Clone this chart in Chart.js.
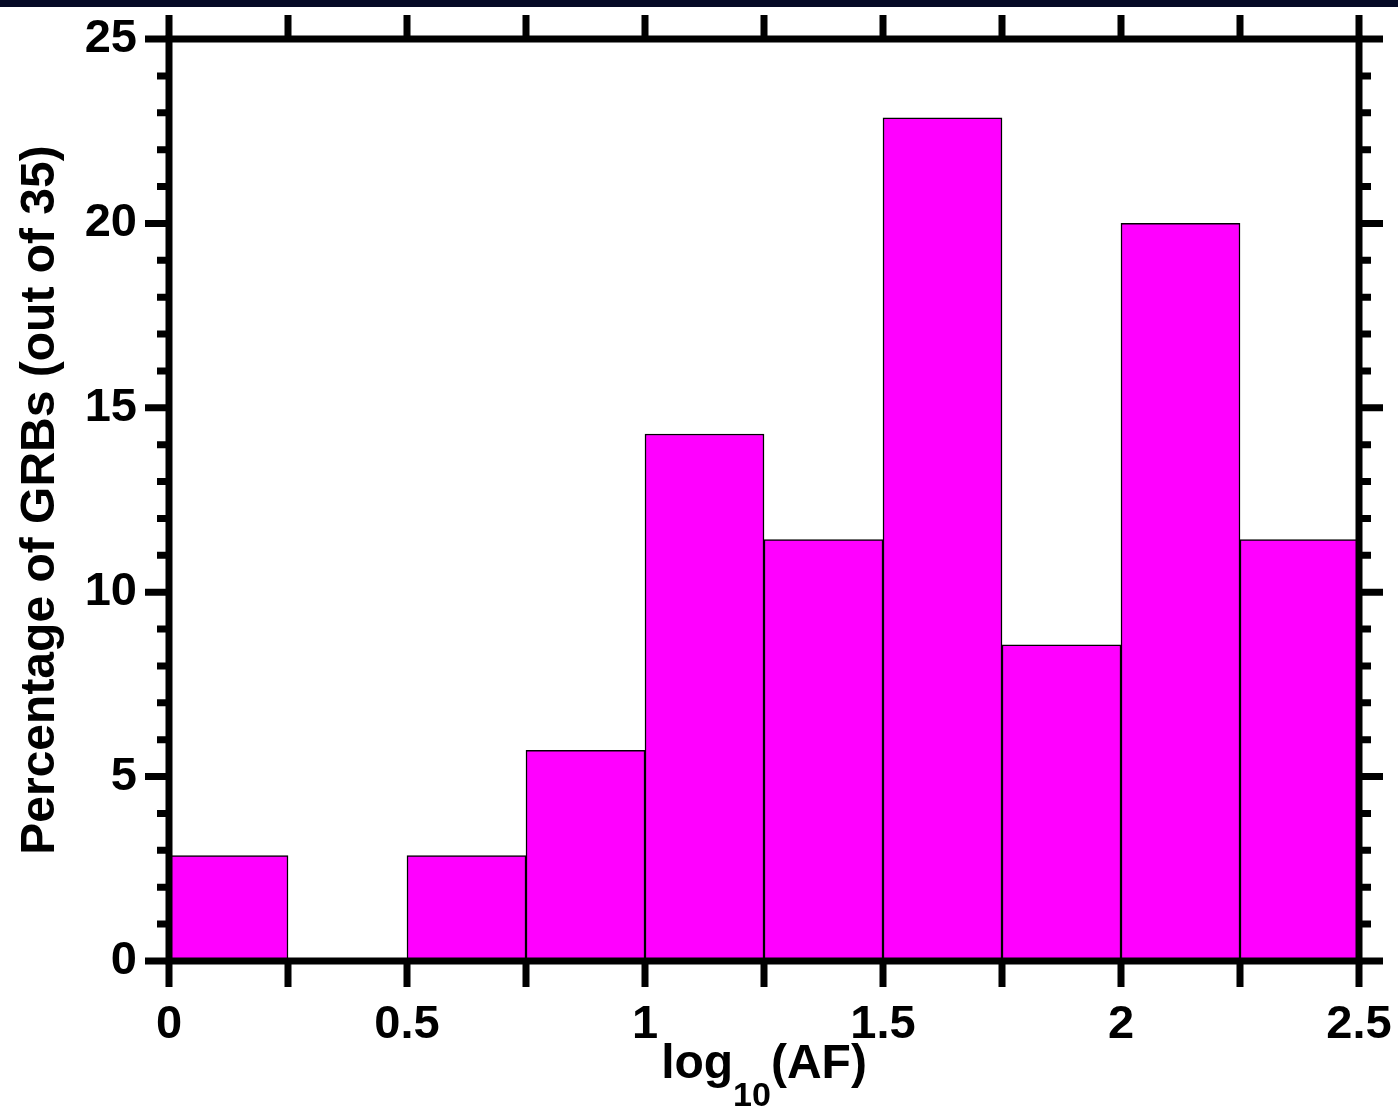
<!DOCTYPE html>
<html>
<head>
<meta charset="utf-8">
<title>Percentage of GRBs vs log10(AF)</title>
<script src="https://cdn.jsdelivr.net/npm/chart.js@4.4.0/dist/chart.umd.min.js"></script>
<style>
    html, body { margin: 0; padding: 0; background: #ffffff; }
    #wrap { width: 1398px; height: 1108px; position: relative; }
</style>
</head>
<body>
<div id="wrap"><canvas id="histChart" width="1398" height="1108"></canvas></div>
<script>
// --- Histogram data (bins of width 0.25 in log10(AF)) ---
const binCentres = [0.125, 0.375, 0.625, 0.875, 1.125, 1.375, 1.625, 1.875, 2.125, 2.375];
const percentValues = [2.86, 0, 2.86, 5.71, 14.29, 11.43, 22.86, 8.57, 20.0, 11.43];
const xTickLabels = ['0', '0.5', '1', '1.5', '2', '2.5'];
const yTickLabels = ['0', '5', '10', '15', '20', '25'];

const FONT = "'Liberation Sans', Arial, Helvetica, sans-serif";
const INK = '#000000';

// top dark band + white page
const backgroundPlugin = {
    id: 'pageBackground',
    beforeDraw(chart) {
        const ctx = chart.ctx;
        ctx.save();
        ctx.fillStyle = '#ffffff';
        ctx.fillRect(0, 0, chart.width, chart.height);
        ctx.fillStyle = '#050a26';
        ctx.fillRect(0, 0, chart.width, 7);
        ctx.restore();
    }
};

// --- thick frame with outward ticks on all four sides ---
const frameTicksPlugin = {
    id: 'frameTicks',
    afterDatasetsDraw(chart) {
        const { ctx, chartArea: area, scales: { x, y } } = chart;
        const lw = 7;
        ctx.save();
        ctx.strokeStyle = INK;
        ctx.lineWidth = lw;
        ctx.lineCap = 'butt';

        // frame
        ctx.strokeRect(area.left, area.top, area.right - area.left, area.bottom - area.top);

        ctx.beginPath();
        // x ticks (every 0.25) on bottom and top
        x.ticks.forEach(t => {
            const px = x.getPixelForValue(t.value);
            ctx.moveTo(px, area.bottom);
            ctx.lineTo(px, area.bottom + 26);
            ctx.moveTo(px, area.top);
            ctx.lineTo(px, area.top - 24);
        });
        // y ticks: major every 5, minor every 1
        for (let v = y.min; v <= y.max; v++) {
            const py = y.getPixelForValue(v);
            const len = v % 5 === 0 ? 24 : 12;
            ctx.moveTo(area.left, py);
            ctx.lineTo(area.left - len, py);
            ctx.moveTo(area.right, py);
            ctx.lineTo(area.right + len, py);
        }
        ctx.stroke();
        ctx.restore();
    }
};

// --- x axis title with subscript: log10(AF) ---
const xTitlePlugin = {
    id: 'xTitle',
    afterDraw(chart) {
        const { ctx, chartArea: area } = chart;
        const mainFont = `bold 48px ${FONT}`;
        const subFont = `bold 34px ${FONT}`;
        const parts = [
            { text: 'log', font: mainFont, dy: 0 },
            { text: '10', font: subFont, dy: 28 },
            { text: '(AF)', font: mainFont, dy: 0 }
        ];
        ctx.save();
        ctx.fillStyle = INK;
        ctx.textBaseline = 'alphabetic';
        ctx.textAlign = 'left';
        let total = 0;
        parts.forEach(p => { ctx.font = p.font; p.w = ctx.measureText(p.text).width; total += p.w; });
        let cx = (area.left + area.right) / 2 - total / 2;
        const baseline = area.bottom + 117;
        parts.forEach(p => {
            ctx.font = p.font;
            ctx.fillText(p.text, cx, baseline + p.dy);
            cx += p.w;
        });
        ctx.restore();
    }
};

const ctx = document.getElementById('histChart').getContext('2d');
const histChart = new Chart(ctx, {
    type: 'bar',
    data: {
        datasets: [{
            label: 'Percentage of GRBs',
            data: binCentres.map((c, i) => ({ x: c, y: percentValues[i] })),
            backgroundColor: '#ff00ff',
            borderColor: INK,
            borderWidth: 1.5,
            borderSkipped: false,
            barPercentage: 1.0,
            categoryPercentage: 1.0
        }]
    },
    options: {
        responsive: false,
        animation: false,
        devicePixelRatio: 1,
        layout: { padding: { top: 39, right: 39, left: 0, bottom: 0 } },
        plugins: {
            legend: { display: false },
            tooltip: { enabled: false }
        },
        scales: {
            x: {
                type: 'linear',
                min: 0,
                max: 2.5,
                offset: false,
                grid: { display: false, drawTicks: false },
                border: { display: false },
                ticks: {
                    stepSize: 0.25,
                    padding: 36,
                    maxRotation: 0,
                    autoSkip: false,
                    color: INK,
                    font: { family: FONT, size: 47, weight: 'bold', lineHeight: 1.2 },
                    callback: function (value) {
                        const idx = Math.round(value / 0.5);
                        return Math.abs(value - idx * 0.5) < 1e-9 ? xTickLabels[idx] : '';
                    }
                },
                afterFit: function (scale) {
                    scale.height = 147;
                    // don't let label overflow push the plot edges in
                    scale.paddingLeft = 0;
                    scale.paddingRight = 0;
                }
            },
            y: {
                min: 0,
                max: 25,
                grid: { display: false, drawTicks: false },
                border: { display: false },
                ticks: {
                    stepSize: 5,
                    padding: 32,
                    color: INK,
                    font: { family: FONT, size: 47, weight: 'bold', lineHeight: 1.2 },
                    callback: function (value) { return yTickLabels[Math.round(value / 5)]; }
                },
                title: {
                    display: true,
                    text: 'Percentage of GRBs (out of 35)',
                    color: INK,
                    font: { family: FONT, size: 48, weight: 'bold', lineHeight: 1.2 },
                    padding: { top: 12, bottom: 0 }
                },
                afterFit: function (scale) {
                    scale.width = 169;
                    scale.paddingTop = 0;
                    scale.paddingBottom = 0;
                }
            }
        }
    },
    plugins: [backgroundPlugin, frameTicksPlugin, xTitlePlugin]
});
</script>
</body>
</html>
